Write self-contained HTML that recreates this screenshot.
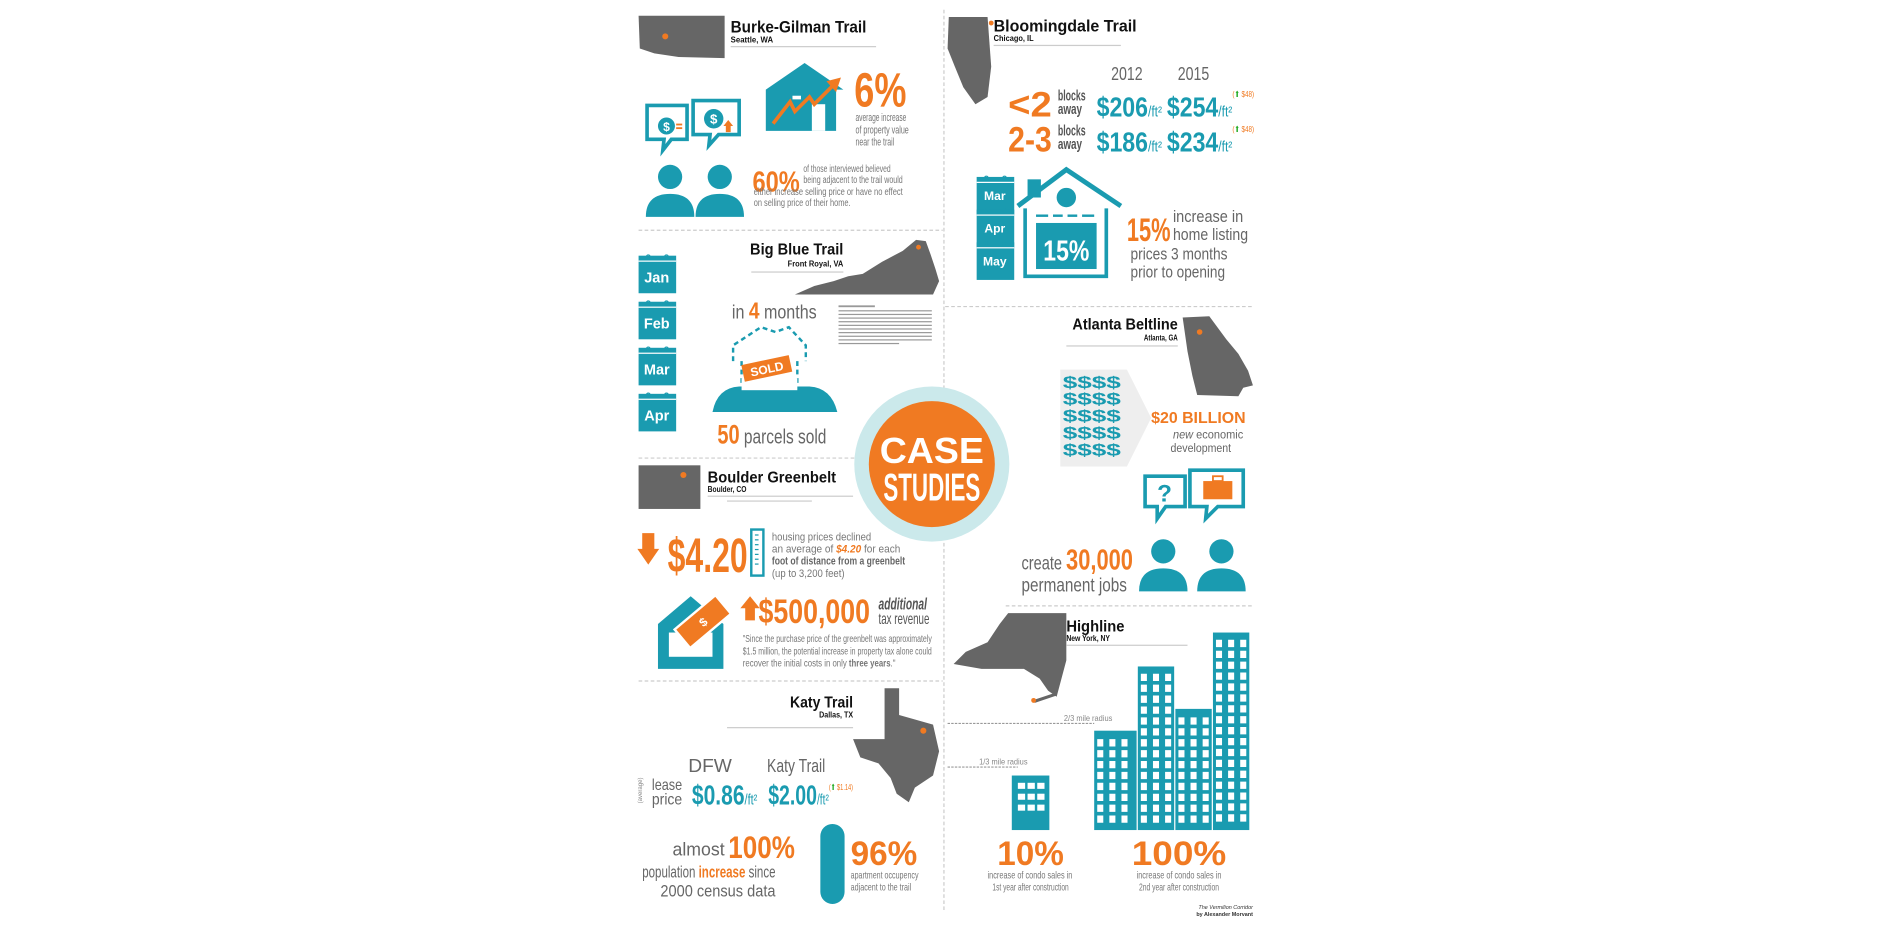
<!DOCTYPE html>
<html><head><meta charset="utf-8"><style>
html,body{margin:0;padding:0;background:#fff;width:1900px;height:927px;overflow:hidden}
svg{display:block}
.n{font-family:"Liberation Sans Narrow","Liberation Sans",sans-serif}
.b{font-family:"Liberation Sans",sans-serif;font-weight:bold}
</style></head><body>
<svg width="1900" height="927" viewBox="0 0 1568 765" preserveAspectRatio="none" xmlns="http://www.w3.org/2000/svg">
<defs>
<g id="cal"><rect x="0" y="3" width="31" height="31" fill="#1a9bb0"/><rect x="0" y="7" width="31" height="1" fill="#fff"/><circle cx="8" cy="4" r="1.6" fill="none" stroke="#1a9bb0"/><circle cx="23" cy="4" r="1.6" fill="none" stroke="#1a9bb0"/></g>
<g id="person"><circle cx="0" cy="0" r="10" fill="#1a9bb0"/><path d="M-20 33 Q-20 14 0 14 Q20 14 20 33 Z" fill="#1a9bb0"/></g>
</defs>
<g fill="none" stroke="#ccc" stroke-width="1" stroke-dasharray="3,2">
<line x1="779" y1="8" x2="779" y2="752"/>
<line x1="527" y1="190" x2="778" y2="190"/>
<line x1="527" y1="378" x2="712" y2="378"/>
<line x1="527" y1="562" x2="778" y2="562"/>
<line x1="780" y1="253" x2="1033" y2="253"/>
<line x1="830" y1="500" x2="1033" y2="500"/>
</g>
<g>
<!-- Burke-Gilman -->
<path d="M527 13 L598 13 L598 48 L560 47 L540 44 L528 40 Z" fill="#666"/>
<circle cx="549" cy="30" r="2.5" fill="#f07a22"/>
<text x="603" y="27" class="b" font-size="14" fill="#111" textLength="112" lengthAdjust="spacingAndGlyphs">Burke-Gilman Trail</text>
<text x="603" y="35" class="b" font-size="7" fill="#111" textLength="35" lengthAdjust="spacingAndGlyphs">Seattle, WA</text>
<rect x="603" y="38" width="120" height="1" fill="#ccc"/>
<path d="M632 74 L664 52 L696 74 L690 74 L690 108 L632 108 Z" fill="#1a9bb0"/>
<rect x="670" y="86" width="11" height="22" fill="#fff"/>
<rect x="654" y="79" width="7" height="3" fill="#fff"/>
<path d="M638 102 L652 84 L656 92 L668 80 L672 86 L688 70" fill="none" stroke="#f07a22" stroke-width="3"/>
<path d="M682 67 L694 64 L690 76 Z" fill="#f07a22"/>
<text x="705" y="88" class="b" font-size="40" fill="#f07a22" textLength="43" lengthAdjust="spacingAndGlyphs">6%</text>
<text x="706" y="100" class="n" font-size="9" fill="#777" textLength="42" lengthAdjust="spacingAndGlyphs">average increase</text>
<text x="706" y="110" class="n" font-size="9" fill="#777" textLength="44" lengthAdjust="spacingAndGlyphs">of property value</text>
<text x="706" y="120" class="n" font-size="9" fill="#777" textLength="32" lengthAdjust="spacingAndGlyphs">near the trail</text>
<path d="M534 87 L567 87 L567 115 L554 115 L547 124 L548 115 L534 115 Z" fill="none" stroke="#1a9bb0" stroke-width="3"/>
<path d="M572 83 L610 83 L610 111 L593 111 L585 120 L586 111 L572 111 Z" fill="#fff" stroke="#1a9bb0" stroke-width="3"/>
<circle cx="550" cy="104" r="7" fill="#1a9bb0"/><text x="550" y="108" class="b" font-size="10" fill="#fff" text-anchor="middle">$</text>
<rect x="558" y="102" width="5" height="1.5" fill="#f07a22"/><rect x="558" y="105" width="5" height="1.5" fill="#f07a22"/>
<circle cx="589" cy="98" r="8" fill="#1a9bb0"/><text x="589" y="102" class="b" font-size="11" fill="#fff" text-anchor="middle">$</text>
<path d="M597 104 L601 99 L605 104 L603 104 L603 109 L599 109 L599 104 Z" fill="#f07a22"/>
<use href="#person" x="553" y="146"/><use href="#person" x="594" y="146"/>
<text x="621" y="158" class="b" font-size="24" fill="#f07a22" textLength="39" lengthAdjust="spacingAndGlyphs">60%</text>
<text x="663" y="142" class="n" font-size="8.5" fill="#777" textLength="72" lengthAdjust="spacingAndGlyphs">of those interviewed believed</text>
<text x="663" y="151" class="n" font-size="8.5" fill="#777" textLength="82" lengthAdjust="spacingAndGlyphs">being adjacent to the trail would</text>
<text x="622" y="161" class="n" font-size="8.5" fill="#777" textLength="123" lengthAdjust="spacingAndGlyphs">either increase selling price or have no effect</text>
<text x="622" y="170" class="n" font-size="8.5" fill="#777" textLength="80" lengthAdjust="spacingAndGlyphs">on selling price of their home.</text>

<!-- Big Blue -->
<use href="#cal" x="527" y="208"/><use href="#cal" x="527" y="246"/><use href="#cal" x="527" y="284"/><use href="#cal" x="527" y="322"/>
<text class="b" font-size="12" fill="#fff" text-anchor="middle"><tspan x="542" y="233">Jan</tspan><tspan x="542" y="271">Feb</tspan><tspan x="542" y="309">Mar</tspan><tspan x="542" y="347">Apr</tspan></text>
<path d="M656 243 L672 236 L688 232 L700 228 L712 226 L728 216 L745 207 L756 198 L764 199 L768 210 L772 222 L775 232 L770 243 Z" fill="#666"/>
<circle cx="758" cy="204" r="2" fill="#f07a22"/>
<text x="619" y="210" class="b" font-size="13" fill="#111" textLength="77" lengthAdjust="spacingAndGlyphs">Big Blue Trail</text>
<text x="650" y="220" class="b" font-size="7" fill="#111" textLength="46" lengthAdjust="spacingAndGlyphs">Front Royal, VA</text>
<rect x="620" y="224" width="76" height="1" fill="#ccc"/>
<text x="604" y="263" class="n" font-size="16" fill="#666" textLength="70" lengthAdjust="spacingAndGlyphs">in <tspan fill="#f07a22" font-weight="bold" font-size="19">4</tspan> months</text>
<g fill="#999"><rect x="692" y="252" width="30" height="1.5"/><rect x="692" y="256" width="77" height="1"/><rect x="692" y="259" width="77" height="1"/><rect x="692" y="262" width="77" height="1"/><rect x="692" y="265" width="77" height="1"/><rect x="692" y="268" width="77" height="1"/><rect x="692" y="271" width="77" height="1"/><rect x="692" y="274" width="77" height="1"/><rect x="692" y="277" width="77" height="1"/><rect x="692" y="280" width="77" height="1"/><rect x="692" y="283" width="50" height="1"/></g>
<path d="M605 298 L605 285 L628 270 L640 274 L651 270 L665 285 L665 298" fill="none" stroke="#1a9bb0" stroke-width="2" stroke-dasharray="4,3"/>
<path d="M612 298 L612 322 M658 298 L658 322" stroke="#1a9bb0" stroke-width="2" stroke-dasharray="4,3"/>
<path d="M588 340 Q592 320 610 319 L668 319 Q686 320 691 340 Z" fill="#1a9bb0"/>
<rect x="612" y="312" width="46" height="10" fill="#fff"/>
<g transform="rotate(-12 633 305)"><rect x="613" y="297" width="40" height="14" fill="#f07a22"/><text x="633" y="308" class="b" font-size="10" fill="#fff" text-anchor="middle">SOLD</text></g>
<text x="592" y="366" class="n" font-size="17" fill="#666" textLength="90" lengthAdjust="spacingAndGlyphs"><tspan fill="#f07a22" font-weight="bold" font-size="22">50</tspan> parcels sold</text>

<!-- Center circle -->
<circle cx="769" cy="383" r="64" fill="#cbe9eb"/>
<circle cx="769" cy="383" r="52" fill="#f07a22"/>
<text x="726" y="382" class="b" font-size="30" fill="#fff" textLength="86" lengthAdjust="spacingAndGlyphs">CASE</text>
<text x="729" y="413" class="b" font-size="32" fill="#fff" textLength="80" lengthAdjust="spacingAndGlyphs">STUDIES</text>

<!-- Boulder -->
<rect x="527" y="384" width="51" height="36" fill="#666"/>
<circle cx="564" cy="392" r="2.5" fill="#f07a22"/>
<text x="584" y="398" class="b" font-size="13" fill="#111" textLength="106" lengthAdjust="spacingAndGlyphs">Boulder Greenbelt</text>
<text x="584" y="406" class="b" font-size="6.5" fill="#111" textLength="32" lengthAdjust="spacingAndGlyphs">Boulder, CO</text>
<rect x="584" y="409" width="120" height="1" fill="#ccc"/><rect x="600" y="413" width="70" height="1" fill="#ccc"/>
<path d="M530 440 L540 440 L540 453 L544 453 L535 466 L526 453 L530 453 Z" fill="#f07a22"/>
<text x="551" y="472" class="b" font-size="40" fill="#f07a22" textLength="66" lengthAdjust="spacingAndGlyphs">$4.20</text>
<rect x="620" y="437" width="10" height="38" fill="none" stroke="#1a9bb0" stroke-width="2"/>
<g fill="#1a9bb0"><rect x="623" y="441" width="3" height="1"/><rect x="623" y="445" width="3" height="1"/><rect x="623" y="449" width="3" height="1"/><rect x="623" y="453" width="3" height="1"/><rect x="623" y="457" width="3" height="1"/><rect x="623" y="461" width="3" height="1"/><rect x="623" y="465" width="3" height="1"/></g>
<text x="637" y="446" class="n" font-size="9" fill="#777" textLength="82" lengthAdjust="spacingAndGlyphs">housing prices declined</text>
<text x="637" y="456" class="n" font-size="9" fill="#777" textLength="106" lengthAdjust="spacingAndGlyphs">an average of <tspan fill="#f07a22" font-weight="bold" font-style="italic">$4.20</tspan> for each</text>
<text x="637" y="466" class="n" font-size="9" fill="#666" font-weight="bold" textLength="110" lengthAdjust="spacingAndGlyphs">foot of distance from a greenbelt</text>
<text x="637" y="476" class="n" font-size="9" fill="#777" textLength="60" lengthAdjust="spacingAndGlyphs">(up to 3,200 feet)</text>
<path d="M543 515 L570 492 L597 515 L597 552 L543 552 Z" fill="#1a9bb0"/>
<rect x="552" y="522" width="36" height="20" fill="#fff"/>
<g transform="rotate(-40 580 513)"><rect x="558" y="503" width="44" height="20" fill="#f07a22" stroke="#fff" stroke-width="2"/><text x="580" y="517" class="b" font-size="10" fill="#fff" text-anchor="middle">$</text></g>
<path d="M615 512 L615 502 L611 502 L619 492 L627 502 L623 502 L623 512 Z" fill="#f07a22"/>
<text x="626" y="514" class="b" font-size="28" fill="#f07a22" textLength="92" lengthAdjust="spacingAndGlyphs">$500,000</text>
<text x="725" y="503" class="n" font-size="14" fill="#555" font-weight="bold" font-style="italic" textLength="40" lengthAdjust="spacingAndGlyphs">additional</text>
<text x="725" y="515" class="n" font-size="13" fill="#555" textLength="42" lengthAdjust="spacingAndGlyphs">tax revenue</text>
<text x="613" y="530" class="n" font-size="8" fill="#777" textLength="156" lengthAdjust="spacingAndGlyphs">"Since the purchase price of the greenbelt was approximately</text>
<text x="613" y="540" class="n" font-size="8" fill="#777" textLength="156" lengthAdjust="spacingAndGlyphs">$1.5 million, the potential increase in property tax alone could</text>
<text x="613" y="550" class="n" font-size="8" fill="#777" textLength="126" lengthAdjust="spacingAndGlyphs">recover the initial costs in only <tspan font-weight="bold">three years</tspan>."</text>

<!-- Katy -->
<text x="652" y="584" class="b" font-size="13" fill="#111" textLength="52" lengthAdjust="spacingAndGlyphs">Katy Trail</text>
<text x="676" y="592" class="b" font-size="6.5" fill="#111" textLength="28" lengthAdjust="spacingAndGlyphs">Dallas, TX</text>
<rect x="600" y="600" width="104" height="1" fill="#ccc"/>
<path d="M730 568 L742 568 L742 590 L770 598 L775 620 L770 640 L755 650 L750 662 L740 655 L735 642 L725 630 L710 625 L704 610 L730 610 Z" fill="#666"/>
<circle cx="762" cy="603" r="2.5" fill="#f07a22"/>
<text x="568" y="637" class="n" font-size="15" fill="#666" textLength="36" lengthAdjust="spacingAndGlyphs">DFW</text>
<text x="633" y="637" class="n" font-size="15" fill="#666" textLength="48" lengthAdjust="spacingAndGlyphs">Katy Trail</text>
<text x="530" y="663" class="n" font-size="5" fill="#888" transform="rotate(-90 530 663)">(average)</text>
<text x="538" y="652" class="n" font-size="13" fill="#666" textLength="25" lengthAdjust="spacingAndGlyphs">lease</text>
<text x="538" y="664" class="n" font-size="13" fill="#666" textLength="25" lengthAdjust="spacingAndGlyphs">price</text>
<text x="571" y="664" class="b" font-size="23" fill="#1a9bb0" textLength="54" lengthAdjust="spacingAndGlyphs">$0.86<tspan font-size="12" font-weight="normal">/ft²</tspan></text>
<text x="634" y="664" class="b" font-size="23" fill="#1a9bb0" textLength="50" lengthAdjust="spacingAndGlyphs">$2.00<tspan font-size="12" font-weight="normal">/ft²</tspan></text>
<text x="684" y="652" class="n" font-size="7" fill="#f07a22" textLength="20" lengthAdjust="spacingAndGlyphs">(<tspan fill="#2a2">⬆</tspan> $1.14)</text>
<text x="555" y="706" class="n" font-size="15" fill="#666" textLength="43" lengthAdjust="spacingAndGlyphs">almost</text>
<text x="601" y="708" class="b" font-size="26" fill="#f07a22" textLength="55" lengthAdjust="spacingAndGlyphs">100%</text>
<text x="530" y="724" class="n" font-size="14" fill="#666" textLength="110" lengthAdjust="spacingAndGlyphs">population <tspan fill="#f07a22" font-weight="bold">increase</tspan> since</text>
<text x="545" y="740" class="n" font-size="14" fill="#666" textLength="95" lengthAdjust="spacingAndGlyphs">2000 census data</text>
<rect x="677" y="680" width="20" height="66" rx="10" fill="#1a9bb0"/>
<text x="702" y="714" class="b" font-size="28" fill="#f07a22" textLength="55" lengthAdjust="spacingAndGlyphs">96%</text>
<text x="702" y="725" class="n" font-size="8" fill="#777" textLength="56" lengthAdjust="spacingAndGlyphs">apartment occupency</text>
<text x="702" y="735" class="n" font-size="8" fill="#777" textLength="50" lengthAdjust="spacingAndGlyphs">adjacent to the trail</text>

<!-- Bloomingdale -->
<path d="M783 14 L815 14 L818 55 L815 80 L805 86 L795 72 L788 55 L782 40 Z" fill="#666"/>
<circle cx="818" cy="19" r="2" fill="#f07a22"/>
<text x="820" y="26" class="b" font-size="14" fill="#111" textLength="118" lengthAdjust="spacingAndGlyphs">Bloomingdale Trail</text>
<text x="820" y="34" class="b" font-size="7" fill="#111" textLength="33" lengthAdjust="spacingAndGlyphs">Chicago, IL</text>
<rect x="820" y="37" width="105" height="1" fill="#ccc"/>
<text x="917" y="66" class="n" font-size="15" fill="#666" textLength="26" lengthAdjust="spacingAndGlyphs">2012</text>
<text x="972" y="66" class="n" font-size="15" fill="#666" textLength="26" lengthAdjust="spacingAndGlyphs">2015</text>
<text x="832" y="96" class="b" font-size="29" fill="#f07a22" textLength="36" lengthAdjust="spacingAndGlyphs">&lt;2</text>
<text x="832" y="125" class="b" font-size="29" fill="#f07a22" textLength="36" lengthAdjust="spacingAndGlyphs">2-3</text>
<text x="873" y="83" class="n" font-size="12" fill="#555" font-weight="bold" textLength="23" lengthAdjust="spacingAndGlyphs">blocks</text>
<text x="873" y="94" class="n" font-size="12" fill="#555" font-weight="bold" textLength="20" lengthAdjust="spacingAndGlyphs">away</text>
<text x="873" y="112" class="n" font-size="12" fill="#555" font-weight="bold" textLength="23" lengthAdjust="spacingAndGlyphs">blocks</text>
<text x="873" y="123" class="n" font-size="12" fill="#555" font-weight="bold" textLength="20" lengthAdjust="spacingAndGlyphs">away</text>
<text x="905" y="96" class="b" font-size="23" fill="#1a9bb0" textLength="54" lengthAdjust="spacingAndGlyphs">$206<tspan font-size="12" font-weight="normal">/ft²</tspan></text>
<text x="963" y="96" class="b" font-size="23" fill="#1a9bb0" textLength="54" lengthAdjust="spacingAndGlyphs">$254<tspan font-size="12" font-weight="normal">/ft²</tspan></text>
<text x="905" y="125" class="b" font-size="23" fill="#1a9bb0" textLength="54" lengthAdjust="spacingAndGlyphs">$186<tspan font-size="12" font-weight="normal">/ft²</tspan></text>
<text x="963" y="125" class="b" font-size="23" fill="#1a9bb0" textLength="54" lengthAdjust="spacingAndGlyphs">$234<tspan font-size="12" font-weight="normal">/ft²</tspan></text>
<text x="1017" y="80" class="n" font-size="7" fill="#f07a22" textLength="18" lengthAdjust="spacingAndGlyphs">(<tspan fill="#2a2">⬆</tspan> $48)</text>
<text x="1017" y="109" class="n" font-size="7" fill="#f07a22" textLength="18" lengthAdjust="spacingAndGlyphs">(<tspan fill="#2a2">⬆</tspan> $48)</text>
<use href="#cal" x="806" y="143"/><use href="#cal" x="806" y="170"/><use href="#cal" x="806" y="197"/>
<text class="b" font-size="10" fill="#fff" text-anchor="middle"><tspan x="821" y="165">Mar</tspan><tspan x="821" y="192">Apr</tspan><tspan x="821" y="219">May</tspan></text>
<path d="M840 170 L880 140 L925 170" fill="none" stroke="#1a9bb0" stroke-width="4"/>
<rect x="848" y="148" width="11" height="15" fill="#1a9bb0"/>
<path d="M846 172 L846 228 L913 228 L913 172" fill="none" stroke="#1a9bb0" stroke-width="3"/>
<circle cx="880" cy="163" r="8" fill="#1a9bb0"/>
<g fill="#1a9bb0"><rect x="855" y="177" width="10" height="2"/><rect x="869" y="177" width="8" height="2"/><rect x="881" y="177" width="8" height="2"/><rect x="893" y="177" width="10" height="2"/></g>
<rect x="855" y="184" width="50" height="38" fill="#1a9bb0"/>
<text x="861" y="215" class="b" font-size="24" fill="#fff" textLength="38" lengthAdjust="spacingAndGlyphs">15%</text>
<text x="930" y="199" class="b" font-size="27" fill="#f07a22" textLength="36" lengthAdjust="spacingAndGlyphs">15%</text>
<text x="968" y="183" class="n" font-size="14" fill="#666" textLength="58" lengthAdjust="spacingAndGlyphs">increase in</text>
<text x="968" y="198" class="n" font-size="14" fill="#666" textLength="62" lengthAdjust="spacingAndGlyphs">home listing</text>
<text x="933" y="214" class="n" font-size="14" fill="#666" textLength="80" lengthAdjust="spacingAndGlyphs">prices 3 months</text>
<text x="933" y="229" class="n" font-size="14" fill="#666" textLength="78" lengthAdjust="spacingAndGlyphs">prior to opening</text>

<!-- Atlanta -->
<text x="885" y="272" class="b" font-size="13" fill="#111" textLength="87" lengthAdjust="spacingAndGlyphs">Atlanta Beltline</text>
<text x="944" y="281" class="b" font-size="6.5" fill="#111" textLength="28" lengthAdjust="spacingAndGlyphs">Atlanta, GA</text>
<rect x="880" y="285" width="92" height="1" fill="#ccc"/>
<path d="M976 262 L998 261 L1012 280 L1022 292 L1030 306 L1034 318 L1026 320 L1022 327 L988 326 L984 310 L980 290 Z" fill="#666"/>
<circle cx="990" cy="274" r="2.3" fill="#f07a22"/>
<path d="M875 305 L930 305 L950 345 L930 385 L875 385 Z" fill="#eee"/>
<g class="b" font-size="14" fill="#1a9bb0">
<text x="877" y="320" textLength="48" lengthAdjust="spacingAndGlyphs">$$$$</text><text x="877" y="334" textLength="48" lengthAdjust="spacingAndGlyphs">$$$$</text><text x="877" y="348" textLength="48" lengthAdjust="spacingAndGlyphs">$$$$</text><text x="877" y="362" textLength="48" lengthAdjust="spacingAndGlyphs">$$$$</text><text x="877" y="376" textLength="48" lengthAdjust="spacingAndGlyphs">$$$$</text>
</g>
<text x="950" y="349" class="b" font-size="13" fill="#f07a22" textLength="78" lengthAdjust="spacingAndGlyphs">$20 BILLION</text>
<text x="968" y="362" class="n" font-size="10" fill="#666" textLength="58" lengthAdjust="spacingAndGlyphs"><tspan font-style="italic">new</tspan> economic</text>
<text x="966" y="373" class="n" font-size="10" fill="#666" textLength="50" lengthAdjust="spacingAndGlyphs">development</text>
<path d="M945 393 L978 393 L978 418 L962 418 L955 428 L955 418 L945 418 Z" fill="#fff" stroke="#1a9bb0" stroke-width="3"/>
<text x="961" y="414" class="b" font-size="20" fill="#1a9bb0" text-anchor="middle">?</text>
<path d="M982 388 L1026 388 L1026 418 L1005 418 L995 428 L996 418 L982 418 Z" fill="#fff" stroke="#1a9bb0" stroke-width="3"/>
<rect x="993" y="397" width="24" height="15" fill="#f07a22"/><rect x="1001" y="393" width="8" height="4" fill="none" stroke="#f07a22" stroke-width="1.5"/>
<use href="#person" x="960" y="455"/><use href="#person" x="1008" y="455"/>
<text x="843" y="470" class="n" font-size="16" fill="#666" textLength="92" lengthAdjust="spacingAndGlyphs">create <tspan fill="#f07a22" font-weight="bold" font-size="24">30,000</tspan></text>
<text x="843" y="488" class="n" font-size="16" fill="#666" textLength="87" lengthAdjust="spacingAndGlyphs">permanent jobs</text>

<!-- Highline -->
<path d="M832 506 L880 506 L880 545 L872 575 L865 570 L858 560 L845 552 L810 552 L787 548 L797 538 L815 530 L825 515 Z" fill="#666"/>
<path d="M852 578 L870 572 L872 574 L854 580 Z" fill="#666"/>
<circle cx="853" cy="578" r="2" fill="#f07a22"/>
<text x="880" y="521" class="b" font-size="13" fill="#111" textLength="48" lengthAdjust="spacingAndGlyphs">Highline</text>
<text x="880" y="529" class="b" font-size="6.5" fill="#111" textLength="36" lengthAdjust="spacingAndGlyphs">New York, NY</text>
<rect x="880" y="532" width="100" height="1" fill="#ccc"/>
<line x1="782" y1="597" x2="903" y2="597" stroke="#999" stroke-dasharray="2,1"/>
<text x="878" y="595" class="n" font-size="7" fill="#888" textLength="40" lengthAdjust="spacingAndGlyphs">2/3 mile radius</text>
<line x1="782" y1="633" x2="840" y2="633" stroke="#999" stroke-dasharray="2,1"/>
<text x="808" y="631" class="n" font-size="7" fill="#888" textLength="40" lengthAdjust="spacingAndGlyphs">1/3 mile radius</text>
<g fill="#1a9bb0">
<rect x="835" y="640" width="31" height="45"/>
<rect x="903" y="603" width="35" height="82"/>
<rect x="939" y="550" width="30" height="135"/>
<rect x="970" y="585" width="30" height="100"/>
<rect x="1001" y="522" width="30" height="163"/>
</g>
<g fill="#fff">
<rect x="840" y="646" width="6" height="5"/><rect x="848" y="646" width="6" height="5"/><rect x="856" y="646" width="6" height="5"/>
<rect x="840" y="655" width="6" height="5"/><rect x="848" y="655" width="6" height="5"/><rect x="856" y="655" width="6" height="5"/>
<rect x="840" y="664" width="6" height="5"/><rect x="848" y="664" width="6" height="5"/><rect x="856" y="664" width="6" height="5"/>
</g>
<g stroke="#fff" stroke-width="5" stroke-dasharray="6,3">
<line x1="908" y1="610" x2="908" y2="680"/><line x1="918" y1="610" x2="918" y2="680"/><line x1="928" y1="610" x2="928" y2="680"/>
<line x1="944" y1="556" x2="944" y2="680"/><line x1="954" y1="556" x2="954" y2="680"/><line x1="964" y1="556" x2="964" y2="680"/>
<line x1="975" y1="592" x2="975" y2="680"/><line x1="985" y1="592" x2="985" y2="680"/><line x1="995" y1="592" x2="995" y2="680"/>
<line x1="1006" y1="528" x2="1006" y2="680"/><line x1="1016" y1="528" x2="1016" y2="680"/><line x1="1026" y1="528" x2="1026" y2="680"/>
</g>
<text x="823" y="714" class="b" font-size="28" fill="#f07a22" textLength="55" lengthAdjust="spacingAndGlyphs">10%</text>
<text x="815" y="725" class="n" font-size="8" fill="#777" textLength="70" lengthAdjust="spacingAndGlyphs">increase of condo sales in</text>
<text x="819" y="735" class="n" font-size="8" fill="#777" textLength="63" lengthAdjust="spacingAndGlyphs">1st year after construction</text>
<text x="934" y="714" class="b" font-size="28" fill="#f07a22" textLength="78" lengthAdjust="spacingAndGlyphs">100%</text>
<text x="938" y="725" class="n" font-size="8" fill="#777" textLength="70" lengthAdjust="spacingAndGlyphs">increase of condo sales in</text>
<text x="940" y="735" class="n" font-size="8" fill="#777" textLength="66" lengthAdjust="spacingAndGlyphs">2nd year after construction</text>
<text x="1034" y="750" class="n" font-size="4.5" fill="#333" text-anchor="end" font-style="italic">The Vermilion Corridor</text>
<text x="1034" y="756" class="n" font-size="4.5" fill="#333" text-anchor="end" font-weight="bold">by Alexander Morvant</text>
</g>
</svg>
</body></html>
